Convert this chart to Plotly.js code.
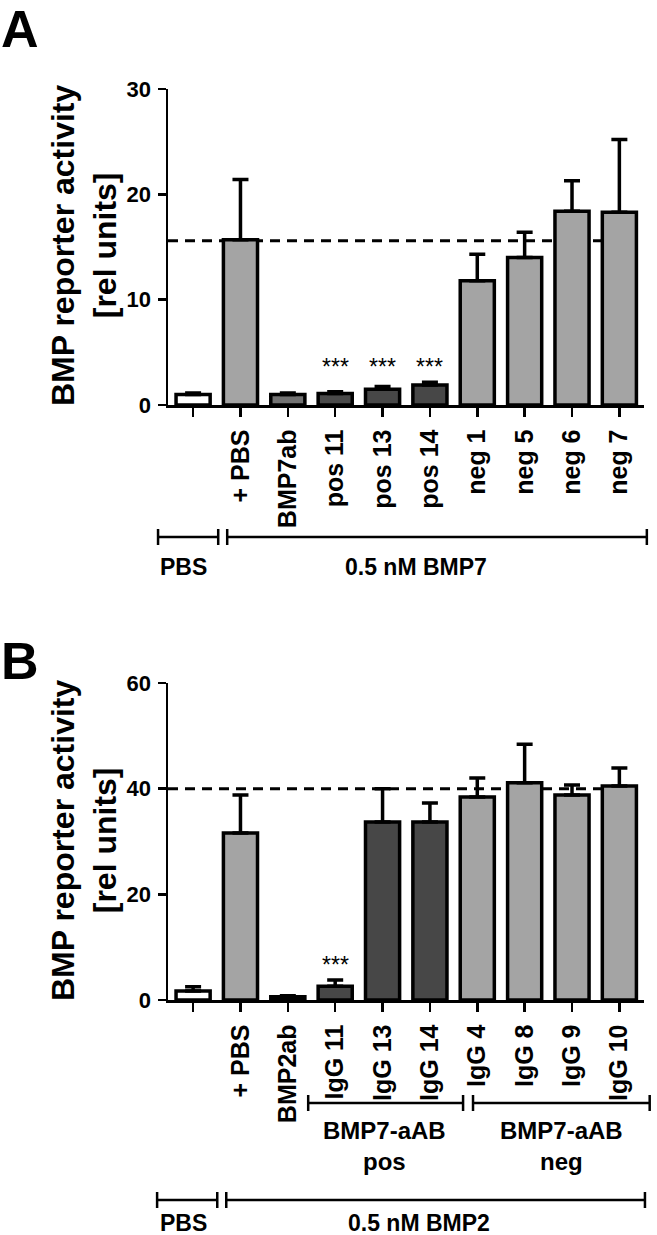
<!DOCTYPE html>
<html>
<head>
<meta charset="utf-8">
<script src="https://cdn.plot.ly/plotly-3.0.1.min.js"></script>
<style>body{margin:0;background:#fff;}</style>
</head>
<body>
<div id="graph" style="width:657px;height:1235px;"></div>
<script>
/* Datos panel A (0.5 nM BMP7) */
const labelsA = ["", "+ PBS", "BMP7ab", "pos 11", "pos 13", "pos 14", "neg 1", "neg 5", "neg 6", "neg 7"];
const valuesA = [1.0, 15.7, 1.0, 1.1, 1.5, 1.9, 11.8, 14.0, 18.4, 18.3];
const errorsA = [0.15, 5.7, 0.15, 0.15, 0.25, 0.25, 2.5, 2.4, 2.9, 6.9];
const signifA = ["", "", "", "***", "***", "***", "", "", "", ""];
const refA = 15.6;

/* Datos panel B (0.5 nM BMP2) */
const labelsB = ["", "+ PBS", "BMP2ab", "IgG 11", "IgG 13", "IgG 14", "IgG 4", "IgG 8", "IgG 9", "IgG 10"];
const valuesB = [1.7, 31.6, 0.6, 2.6, 33.7, 33.7, 38.4, 41.1, 38.8, 40.5];
const errorsB = [0.8, 7.2, 0.2, 1.2, 6.3, 3.6, 3.6, 7.3, 1.9, 3.4];
const signifB = ["", "", "", "***", "", "", "", "", "", ""];
const refB = 40;

// colores de relleno (estilo, no datos)
const colorsA = ["#ffffff", "#a4a4a4", "#727272", "#4a4a4a", "#474747", "#474747", "#a4a4a4", "#a4a4a4", "#a4a4a4", "#a4a4a4"];
const colorsB = ["#ffffff", "#a4a4a4", "#3a3a3a", "#474747", "#474747", "#474747", "#a4a4a4", "#a4a4a4", "#a4a4a4", "#a4a4a4"];

const W = 657, H = 1235;
const FONT = "Liberation Sans, Arial, Helvetica, sans-serif";
const xDomain = [168 / W, 644 / W];
const xRange = [-0.53, 9.52];

// helpers para pasar a coordenadas "paper"
const py = (p) => 1 - p / H;
const pxCat = (c) => xDomain[0] + (c - xRange[0]) / (xRange[1] - xRange[0]) * (xDomain[1] - xDomain[0]);

function barTrace(labels, values, errors, colors, xa, ya) {
    return {
        type: 'bar',
        x: labels.map((_, i) => i),
        y: values,
        width: 0.72,
        xaxis: xa, yaxis: ya,
        marker: {color: colors, line: {color: '#000', width: 3.5}},
        error_y: {
            type: 'data', symmetric: false,
            array: errors, arrayminus: errors.map(() => 0),
            color: '#000', thickness: 3.5, width: 8
        },
        hoverinfo: 'skip'
    };
}

function xAxis(labels, anchor) {
    return {
        domain: xDomain, range: xRange, anchor: anchor,
        tickvals: labels.map((_, i) => i), ticktext: labels,
        tickangle: -90, ticks: 'outside', ticklen: 9, tickwidth: 2.5, tickcolor: '#000',
        showline: true, linewidth: 2.5, linecolor: '#000',
        showgrid: false, zeroline: false,
        tickfont: {family: FONT, size: 25, color: '#000', weight: 'bold'},
        ticklabelstandoff: 3,
        fixedrange: true
    };
}

function yAxis(range, dtick, domain, anchor) {
    return {
        domain: domain, range: range, anchor: anchor, dtick: dtick, tick0: 0,
        ticks: 'outside', ticklen: 8, tickwidth: 2.5, tickcolor: '#000',
        showline: true, linewidth: 2.5, linecolor: '#000',
        showgrid: false, zeroline: false,
        tickfont: {family: FONT, size: 22, color: '#000', weight: 'bold'},
        ticklabelstandoff: 2,
        fixedrange: true
    };
}

function bracket(x0, x1, yPix) {
    const out = [];
    const line = {color: '#000', width: 2.5};
    out.push({type: 'line', xref: 'paper', yref: 'paper', x0: pxCat(x0), x1: pxCat(x1), y0: py(yPix), y1: py(yPix), line: line});
    out.push({type: 'line', xref: 'paper', yref: 'paper', x0: pxCat(x0), x1: pxCat(x0), y0: py(yPix - 8), y1: py(yPix + 8), line: line});
    out.push({type: 'line', xref: 'paper', yref: 'paper', x0: pxCat(x1), x1: pxCat(x1), y0: py(yPix - 8), y1: py(yPix + 8), line: line});
    return out;
}

function label(text, xc, yPix, size) {
    return {
        text: text, xref: 'paper', yref: 'paper', x: pxCat(xc), y: py(yPix),
        xanchor: 'center', yanchor: 'middle', showarrow: false,
        font: {family: FONT, size: size, color: '#000', weight: 'bold'}
    };
}

function starNotes(signif, values, errors, xa, ya) {
    const idx = signif.map((s, i) => s ? i : -1).filter(i => i >= 0);
    const level = Math.max(...idx.map(i => values[i] + errors[i]));
    return idx.map(i => ({
        text: signif[i], x: i, y: level, xref: xa, yref: ya,
        yanchor: 'bottom', yshift: 0, showarrow: false,
        font: {family: FONT, size: 23, color: '#000'}
    }));
}

function showGraph() {
    const graph = document.getElementById('graph');

    const dashLine = {color: '#000', width: 3, dash: '10px,7px'};
    const shapes = [
        {type: 'line', xref: 'x domain', yref: 'y', x0: 0, x1: 1, y0: refA, y1: refA, layer: 'below', line: dashLine},
        {type: 'line', xref: 'x2 domain', yref: 'y2', x0: 0, x1: 1, y0: refB, y1: refB, layer: 'below', line: dashLine}
    ]
    .concat(bracket(-0.74, 0.53, 537))
    .concat(bracket(0.72, 9.58, 537))
    .concat(bracket(2.43, 5.70, 1103))
    .concat(bracket(5.91, 9.64, 1103))
    .concat(bracket(-0.76, 0.51, 1200))
    .concat(bracket(0.70, 9.54, 1200));

    const yTitle = 'BMP reporter activity<br>[rel units]';
    const annotations = [
        {text: 'A', xref: 'paper', yref: 'paper', x: 0, y: 1, xanchor: 'left', yanchor: 'top',
         xshift: -1, yshift: 2, showarrow: false, font: {family: FONT, size: 52, color: '#000', weight: 'bold'}},
        {text: 'B', xref: 'paper', yref: 'paper', x: 0, y: py(630), xanchor: 'left', yanchor: 'top',
         xshift: -1, showarrow: false, font: {family: FONT, size: 52, color: '#000', weight: 'bold'}},
        {text: yTitle, xref: 'paper', yref: 'paper', x: 84 / W, y: py(245), textangle: -90,
         xanchor: 'center', yanchor: 'middle', showarrow: false,
         font: {family: FONT, size: 32, color: '#000', weight: 'bold'}},
        {text: yTitle, xref: 'paper', yref: 'paper', x: 84 / W, y: py(840), textangle: -90,
         xanchor: 'center', yanchor: 'middle', showarrow: false,
         font: {family: FONT, size: 32, color: '#000', weight: 'bold'}},
        label('PBS', -0.21, 567, 23),
        label('0.5 nM BMP7', 4.7, 567, 23),
        label('BMP7-aAB<br>pos', 4.05, 1146, 24),
        label('BMP7-aAB<br>neg', 7.77, 1146, 24),
        label('PBS', -0.21, 1223, 23),
        label('0.5 nM BMP2', 4.77, 1223, 23)
    ]
    .concat(starNotes(signifA, valuesA, errorsA, 'x', 'y'))
    .concat(starNotes(signifB, valuesB, errorsB, 'x2', 'y2'));

    const layout = {
        width: W, height: H,
        margin: {l: 0, r: 0, t: 0, b: 0},
        paper_bgcolor: '#fff', plot_bgcolor: '#fff',
        showlegend: false,
        xaxis: xAxis(labelsA, 'y'),
        yaxis: yAxis([0, 30], 10, [py(405), py(89)], 'x'),
        xaxis2: xAxis(labelsB, 'y2'),
        yaxis2: yAxis([0, 60], 20, [py(1000), py(683)], 'x2'),
        shapes: shapes,
        annotations: annotations
    };

    Plotly.newPlot(graph, [
        barTrace(labelsA, valuesA, errorsA, colorsA, 'x', 'y'),
        barTrace(labelsB, valuesB, errorsB, colorsB, 'x2', 'y2')
    ], layout, {staticPlot: true});
}

showGraph();
</script>
</body>
</html>
